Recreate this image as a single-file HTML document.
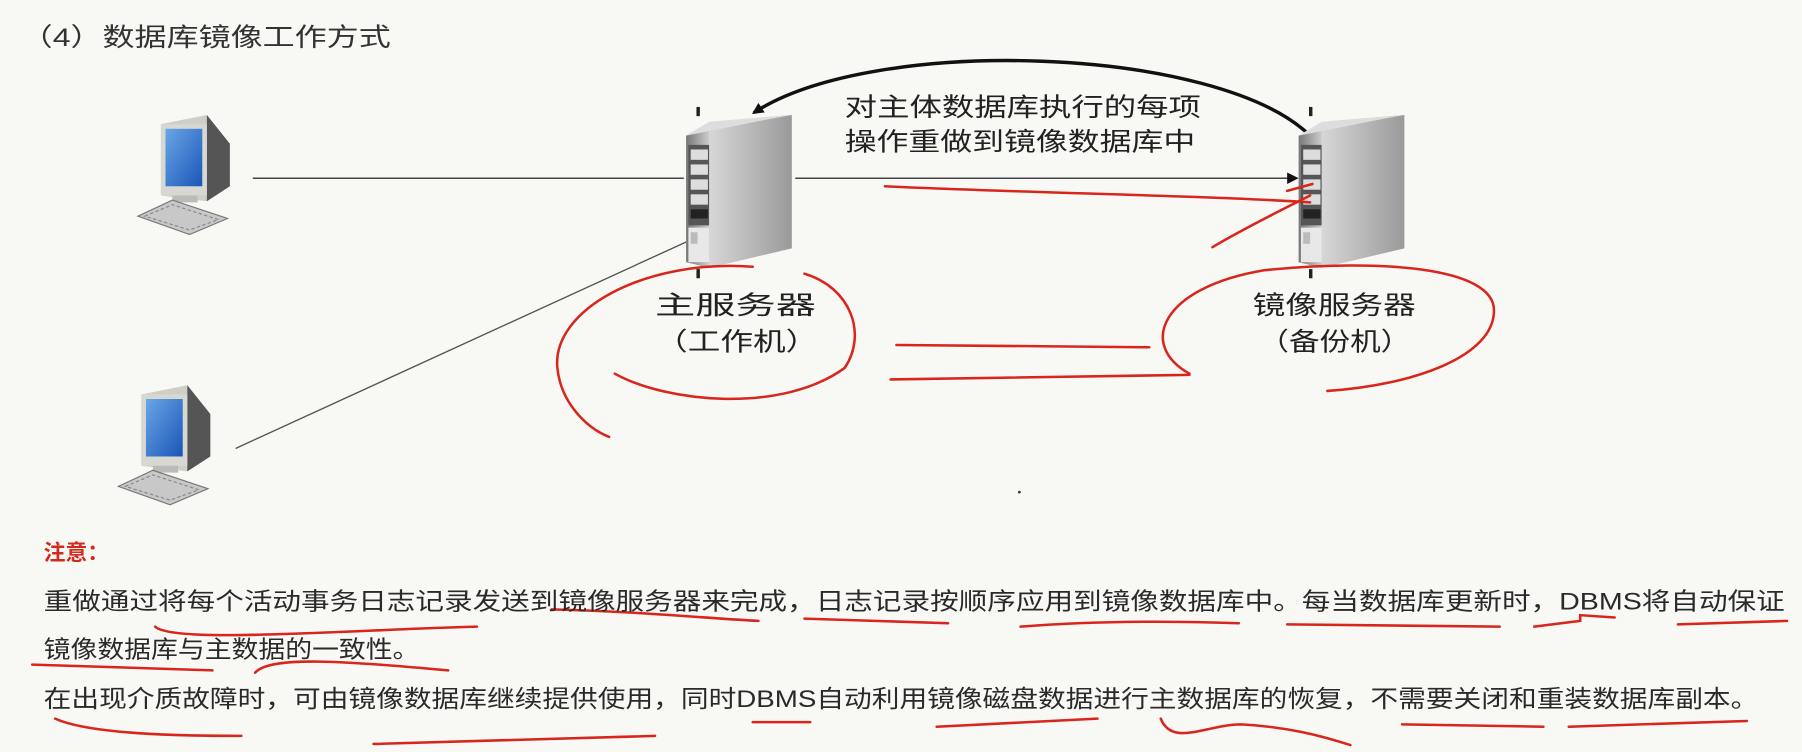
<!DOCTYPE html>
<html><head><meta charset="utf-8"><style>
html,body{margin:0;padding:0;background:#f8f8f5;}
svg{display:block}
text{font-family:"Liberation Sans","Noto Sans CJK SC",sans-serif;}
</style></head><body>
<svg width="1802" height="752" viewBox="0 0 1568 654" preserveAspectRatio="none" xmlns="http://www.w3.org/2000/svg">
<defs>
<linearGradient id="side" x1="0" x2="1"><stop offset="0" stop-color="#e8e8e8"/><stop offset="1" stop-color="#9a9a9a"/></linearGradient>
<linearGradient id="front" x1="0" x2="1"><stop offset="0" stop-color="#777"/><stop offset="1" stop-color="#ccc"/></linearGradient>
<linearGradient id="scr" x1="0" x2="1" y1="0" y2="1"><stop offset="0" stop-color="#6aa6e6"/><stop offset="1" stop-color="#1a55b8"/></linearGradient>
<marker id="ah" markerWidth="10" markerHeight="10" refX="8" refY="5" orient="auto" markerUnits="userSpaceOnUse"><path d="M0,0 L10,5 L0,10 z" fill="#111"/></marker>
<g id="server">
 <path d="M0,20 L20,8 L92,2 L92,118 L20,135 L0,130 z" fill="url(#side)"/>
 <path d="M0,20 L20,14 L20,135 L0,130 z" fill="url(#front)"/>
 <path d="M0,20 L20,8 L92,2 L70,6 z" fill="#ddd"/>
 <rect x="2" y="28" width="18" height="70" fill="#555"/>
 <rect x="4" y="32" width="15" height="9" fill="#ddd"/>
 <rect x="4" y="45" width="15" height="9" fill="#ddd"/>
 <rect x="4" y="58" width="15" height="9" fill="#ddd"/>
 <rect x="4" y="71" width="15" height="9" fill="#ddd"/>
 <rect x="4" y="84" width="15" height="8" fill="#222"/>
 <rect x="2" y="100" width="18" height="30" fill="#e8e8e8"/>
 <rect x="4" y="104" width="6" height="10" fill="#bbb"/>
 <rect x="9" y="-5" width="3" height="8" fill="#222"/>
 <rect x="9" y="136" width="3" height="8" fill="#222"/>
</g>
<g id="pc">
 <path d="M20,8 L60,0 L80,25 L80,62 L60,75 L20,70 z" fill="#cfcfc8"/>
 <path d="M60,0 L80,25 L80,62 L60,75 z" fill="#555"/>
 <rect x="20" y="8" width="40" height="62" fill="#d8d8d2"/>
 <rect x="24" y="12" width="32" height="50" fill="url(#scr)"/>
 <rect x="30" y="70" width="22" height="6" fill="#bbb"/>
 <path d="M0,88 L30,74 L78,90 L45,104 z" fill="#c8c8c8" stroke="#777" stroke-width="1"/>
 <path d="M6,88 L30,78 L70,91 L45,100 z" fill="none" stroke="#888" stroke-width="1" stroke-dasharray="3,2"/>
</g>
</defs>
<rect width="1568" height="654" fill="#f8f8f5"/>
<text x="18" y="40" font-size="22" fill="#333" textLength="322" lengthAdjust="spacingAndGlyphs">（4）数据库镜像工作方式</text>

<line x1="220" y1="155" x2="595" y2="155" stroke="#444" stroke-width="1.3"/>
<line x1="205" y1="390" x2="598" y2="210" stroke="#555" stroke-width="1.2"/>
<line x1="692" y1="155" x2="1128" y2="155" stroke="#444" stroke-width="1.3" marker-end="url(#ah)"/>
<path d="M1140,118 C1060,40 760,30 656,98" fill="none" stroke="#111" stroke-width="3" marker-end="url(#ah)"/>

<use href="#pc" x="120" y="100"/>
<use href="#pc" x="103" y="335"/>
<use href="#server" x="597" y="98"/>
<use href="#server" x="1130" y="98"/>

<text x="735" y="101" font-size="22" fill="#222" textLength="310" lengthAdjust="spacingAndGlyphs">对主体数据库执行的每项</text>
<text x="735" y="131" font-size="22" fill="#222" textLength="305" lengthAdjust="spacingAndGlyphs">操作重做到镜像数据库中</text>
<text x="570" y="273" font-size="22" fill="#222" textLength="140" lengthAdjust="spacingAndGlyphs">主服务器</text>
<text x="570" y="305" font-size="22" fill="#222" textLength="142" lengthAdjust="spacingAndGlyphs">（工作机）</text>
<text x="1090" y="273" font-size="22" fill="#222" textLength="142" lengthAdjust="spacingAndGlyphs">镜像服务器</text>
<text x="1095" y="305" font-size="22" fill="#222" textLength="133" lengthAdjust="spacingAndGlyphs">（备份机）</text>

<g fill="none" stroke="#d8261c" stroke-width="2.2" stroke-linecap="round">
<path d="M655,232 C560,225 480,270 485,320 C488,350 510,372 530,380"/>
<path d="M535,325 C580,350 680,360 735,320 C755,290 740,250 700,238"/>
<path d="M1035,325 C990,300 1010,250 1100,235 C1200,225 1300,232 1300,270 C1300,310 1230,335 1155,340"/>
<path d="M780,300 L1000,302"/>
<path d="M775,330 L1035,326"/>
<path d="M770,162 C900,168 1050,170 1140,176 M1120,166 L1142,160"/>
<path d="M1055,215 C1080,200 1120,180 1140,170"/>
<path d="M480,530 C560,532 620,538 660,540"/>
<path d="M135,545 C150,560 300,548 415,545"/>
<path d="M700,538 L825,542"/><path d="M888,545 C950,540 1020,540 1078,542"/>
<path d="M1120,543 L1305,545"/><path d="M1335,545 L1375,540 L1375,535 L1405,537"/>
<path d="M1460,543 L1555,540"/>
<path d="M28,578 L185,583"/><path d="M222,585 C235,570 300,575 390,583"/>
<path d="M48,625 C70,635 120,640 210,640"/><path d="M325,647 L570,640"/>
<path d="M655,628 L705,628"/><path d="M815,632 L955,625"/>
<path d="M1010,625 C1020,650 1050,630 1080,630 C1120,632 1150,640 1175,648"/>
<path d="M1220,630 L1343,632"/><path d="M1365,632 L1520,627"/>
</g>
<circle cx="887" cy="428" r="1.2" fill="#333"/>

<text x="38" y="487" font-size="19" font-weight="bold" fill="#d42a1e">注意：</text>
<g font-size="21" fill="#2a2a2a">
<text x="38" y="530" textLength="1515" lengthAdjust="spacingAndGlyphs">重做通过将每个活动事务日志记录发送到镜像服务器来完成，日志记录按顺序应用到镜像数据库中。每当数据库更新时，DBMS将自动保证</text>
<text x="38" y="572" textLength="327" lengthAdjust="spacingAndGlyphs">镜像数据库与主数据的一致性。</text>
<text x="38" y="615" textLength="1492" lengthAdjust="spacingAndGlyphs">在出现介质故障时，可由镜像数据库继续提供使用，同时DBMS自动利用镜像磁盘数据进行主数据库的恢复，不需要关闭和重装数据库副本。</text>
</g>
</svg>
</body></html>
